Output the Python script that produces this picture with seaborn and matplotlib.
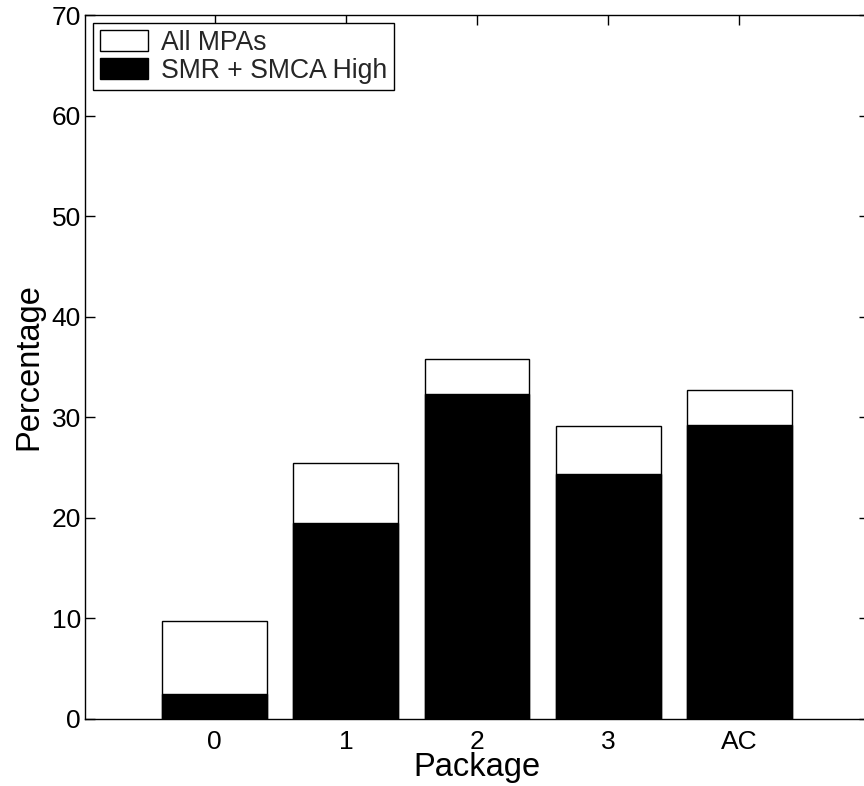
import matplotlib
matplotlib.use("Agg")
import matplotlib.pyplot as plt
from matplotlib.patches import Patch
import seaborn as sns
import pandas as pd

# Share of responses per package
categories = ["0", "1", "2", "3", "AC"]
all_mpas = [9.7, 25.45, 35.75, 29.15, 32.7]
smr_smca_high = [2.4, 19.45, 32.3, 24.3, 29.2]
yticks = [0, 10, 20, 30, 40, 50, 60, 70]

sns.set_style("ticks")
plt.rcParams["font.family"] = ["Liberation Sans", "DejaVu Sans"]

df = pd.DataFrame({
    "Package": categories,
    "All MPAs": all_mpas,
    "SMR + SMCA High": smr_smca_high,
})

W, H = 864, 786
fig = plt.figure(figsize=(W / 100, H / 100), dpi=100)
ax = fig.add_axes([85 / W, (H - 718.5) / H, (869 - 85) / W, (718.5 - 15) / H])

# white full-height bars, black subset bars drawn over them
sns.barplot(data=df, x="Package", y="All MPAs", color="white", edgecolor="black",
            linewidth=1.0, width=0.8, saturation=1, errorbar=None, ax=ax)
sns.barplot(data=df, x="Package", y="SMR + SMCA High", color="black", edgecolor="black",
            linewidth=1.0, width=0.8, saturation=1, errorbar=None, ax=ax)

ax.set_xlim(-0.99, 4.99)
ax.set_ylim(0, 70)
ax.set_yticks(yticks)

for sp in ax.spines.values():
    sp.set_visible(True)
    sp.set_color("black")
    sp.set_linewidth(1.0)

ax.tick_params(direction="in", length=7, width=1, top=True, right=True,
               labelsize=19, color="black", labelcolor="black")
ax.tick_params(axis="x", pad=8)
ax.tick_params(axis="y", pad=3)

ax.set_xlabel("Package", fontsize=23.5, color="black", labelpad=-1)
ax.set_ylabel("Percentage", fontsize=23.5, color="black", labelpad=5)

handles = [Patch(facecolor="white", edgecolor="black", linewidth=1.0),
           Patch(facecolor="black", edgecolor="black", linewidth=1.0)]
leg = ax.legend(handles, ["All MPAs", "SMR + SMCA High"], loc="upper left",
                bbox_to_anchor=(0, 1), borderaxespad=0.3, fontsize=19.2,
                frameon=True, fancybox=False, edgecolor="black", framealpha=1,
                handlelength=1.8, handleheight=0.85, handletextpad=0.5,
                labelspacing=0.08, borderpad=0.25)
leg.get_frame().set_linewidth(1.0)

fig.savefig("out.png", dpi=100)
